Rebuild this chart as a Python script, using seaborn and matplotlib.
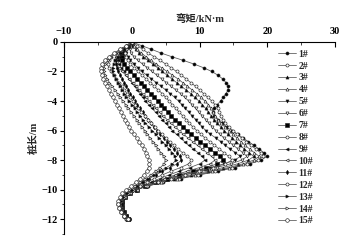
import numpy as np
import pandas as pd
import seaborn as sns
import matplotlib
matplotlib.use("Agg")
import matplotlib.pyplot as plt
from matplotlib.ticker import MultipleLocator

# depth grid (m), measurement every 0.25 m from 0 to -12
depth = np.linspace(0, -12, 49)

labels = ["1#", "2#", "3#", "4#", "5#", "6#", "7#", "8#", "9#", "10#",
          "11#", "12#", "13#", "14#", "15#"]

m1 = [0, 1.45, 2.9, 4.3, 5.9, 7.6, 9.2, 10.6, 11.8, 12.7, 13.4, 13.9, 14.2,
      14.2, 13.9, 13.5, 13.1, 12.6, 12.2, 12.0, 12.2, 12.7, 13.3, 14.0, 14.8,
      15.6, 16.4, 17.2, 18.0, 18.8, 19.5, 19.9, 19.1, 17.4, 15.2, 12.7, 10.0,
      7.2, 4.6, 2.4, 0.7, -0.5, -1.3, -1.7, -1.8, -1.7, -1.5, -1.2, -0.8]
m2 = [0, 0.8, 1.6, 2.4, 3.3, 4.2, 5.0, 5.8, 6.6, 7.3, 8.0, 8.7, 9.4,
      10.0, 10.6, 11.2, 11.8, 12.3, 12.7, 12.9, 13.1, 13.4, 13.8, 14.3, 14.9,
      15.5, 16.2, 16.9, 17.6, 18.3, 19.0, 19.4, 18.6, 17.0, 14.8, 12.3, 9.7,
      7.0, 4.5, 2.3, 0.6, -0.6, -1.4, -1.7, -1.8, -1.7, -1.5, -1.2, -0.8]
m3 = [0, 0.2, 0.6, 1.1, 1.7, 2.4, 3.1, 3.8, 4.5, 5.2, 5.9, 6.6, 7.3,
      8.0, 8.7, 9.3, 9.9, 10.4, 10.9, 11.3, 11.7, 12.1, 12.6, 13.1, 13.6,
      14.2, 14.8, 15.4, 16.0, 16.6, 17.3, 18.0, 17.2, 15.6, 13.5, 11.2, 8.7,
      6.2, 4.0, 2.1, 0.6, -0.5, -1.2, -1.6, -1.7, -1.6, -1.4, -1.1, -0.7]
m4 = [0, 0.3, 0.8, 1.4, 2.1, 2.8, 3.6, 4.4, 5.2, 6.0, 6.8, 7.5, 8.2,
      8.9, 9.6, 10.2, 10.8, 11.3, 11.7, 12.0, 12.3, 12.7, 13.2, 13.7, 14.3,
      14.9, 15.5, 16.1, 16.7, 17.4, 18.1, 18.8, 18.0, 16.4, 14.3, 11.9, 9.3,
      6.7, 4.3, 2.2, 0.6, -0.6, -1.3, -1.7, -1.8, -1.7, -1.5, -1.1, -0.7]
m5 = [0, -0.4, -0.7, -0.8, -0.6, -0.2, 0.3, 0.9, 1.5, 2.2, 2.9, 3.6, 4.3,
      5.0, 5.7, 6.3, 6.9, 7.4, 7.9, 8.4, 8.9, 9.4, 9.9, 10.4, 10.9,
      11.6, 12.4, 13.1, 13.8, 14.5, 15.3, 16.0, 15.2, 13.6, 11.6, 9.4, 7.2,
      5.1, 3.3, 1.8, 0.5, -0.4, -1.0, -1.4, -1.5, -1.4, -1.2, -0.9, -0.5]
m6 = [0, -0.2, -0.3, -0.1, 0.3, 0.9, 1.6, 2.3, 3.0, 3.7, 4.4, 5.1, 5.8,
      6.5, 7.2, 7.8, 8.4, 8.9, 9.4, 9.9, 10.4, 10.9, 11.4, 11.9, 12.4,
      13.0, 13.6, 14.3, 15.0, 15.7, 16.4, 17.0, 16.2, 14.6, 12.5, 10.2, 7.8,
      5.5, 3.5, 1.9, 0.6, -0.4, -1.1, -1.5, -1.6, -1.5, -1.3, -1.0, -0.6]
m7 = [0, -0.6, -1.1, -1.4, -1.5, -1.4, -1.1, -0.7, -0.2, 0.3, 0.8, 1.3, 1.8,
      2.3, 2.8, 3.3, 3.8, 4.3, 4.8, 5.3, 5.8, 6.4, 7.0, 7.6, 8.2,
      8.8, 9.4, 10.1, 10.8, 11.5, 12.3, 13.0, 13.5, 12.6, 11.0, 9.0, 7.0,
      5.2, 3.5, 2.0, 0.7, -0.3, -1.0, -1.4, -1.5, -1.5, -1.2, -0.9, -0.5]
m8 = [0, -0.5, -0.9, -1.0, -0.9, -0.6, -0.2, 0.3, 0.9, 1.5, 2.1, 2.7, 3.3,
      3.9, 4.5, 5.0, 5.5, 6.0, 6.5, 7.0, 7.5, 8.0, 8.5, 9.0, 9.6,
      10.2, 10.8, 11.5, 12.2, 12.9, 13.6, 14.3, 14.8, 13.8, 12.0, 9.9, 7.8,
      5.8, 3.9, 2.2, 0.8, -0.3, -1.0, -1.4, -1.6, -1.5, -1.3, -1.0, -0.6]
m9 = [0, -0.6, -1.2, -1.6, -1.9, -2.0, -1.9, -1.6, -1.2, -0.8, -0.4, 0.0, 0.4,
      0.8, 1.2, 1.6, 2.0, 2.5, 3.0, 3.5, 4.0, 4.5, 5.0, 5.5, 6.0,
      6.6, 7.2, 7.8, 8.4, 9.1, 9.8, 10.4, 10.8, 10.0, 8.6, 7.0, 5.5,
      4.1, 2.8, 1.6, 0.5, -0.4, -1.0, -1.4, -1.5, -1.4, -1.1, -0.8, -0.4]
m10 = [0, -0.8, -1.5, -2.0, -2.4, -2.5, -2.3, -1.9, -1.4, -0.9, -0.4, 0.1, 0.6,
       1.1, 1.6, 2.1, 2.6, 3.1, 3.6, 4.1, 4.6, 5.2, 5.8, 6.4, 7.0,
       7.6, 8.3, 9.0, 9.7, 10.4, 11.1, 11.8, 12.3, 11.5, 10.0, 8.2, 6.4,
       4.8, 3.3, 1.9, 0.7, -0.3, -1.0, -1.4, -1.6, -1.5, -1.3, -0.9, -0.5]
m11 = [0, -0.6, -1.2, -1.7, -2.1, -2.3, -2.3, -2.2, -2.0, -1.7, -1.4, -1.1, -0.8,
       -0.5, -0.2, 0.1, 0.4, 0.8, 1.2, 1.6, 2.0, 2.4, 2.8, 3.2, 3.7,
       4.2, 4.7, 5.2, 5.7, 6.2, 6.7, 7.1, 7.3, 6.7, 5.6, 4.5, 3.5,
       2.6, 1.7, 0.9, 0.1, -0.6, -1.1, -1.4, -1.5, -1.4, -1.1, -0.7, -0.3]
m12 = [0, -0.8, -1.7, -2.5, -3.1, -3.4, -3.5, -3.4, -3.1, -2.7, -2.3, -1.9, -1.5,
       -1.1, -0.7, -0.3, 0.1, 0.5, 0.9, 1.4, 1.9, 2.4, 2.9, 3.4, 3.9,
       4.4, 5.0, 5.6, 6.2, 6.8, 7.5, 8.2, 8.8, 8.4, 7.2, 5.8, 4.5,
       3.3, 2.2, 1.2, 0.2, -0.6, -1.2, -1.6, -1.7, -1.6, -1.4, -1.0, -0.5]
m13 = [0, -0.5, -1.1, -1.6, -2.1, -2.5, -2.7, -2.8, -2.8, -2.6, -2.3, -2.0, -1.7,
       -1.4, -1.1, -0.8, -0.4, 0.0, 0.4, 0.8, 1.2, 1.6, 2.0, 2.5, 3.0,
       3.5, 4.0, 4.5, 5.0, 5.5, 6.0, 6.4, 6.5, 6.0, 5.1, 4.1, 3.2,
       2.4, 1.6, 0.8, 0.0, -0.7, -1.3, -1.6, -1.7, -1.6, -1.3, -0.9, -0.4]
m14 = [0, -0.7, -1.5, -2.3, -3.0, -3.5, -3.9, -4.1, -4.1, -3.9, -3.6, -3.3, -2.9,
       -2.5, -2.1, -1.7, -1.3, -0.9, -0.5, -0.1, 0.3, 0.7, 1.1, 1.5, 1.9,
       2.3, 2.7, 3.1, 3.5, 3.9, 4.3, 4.7, 5.0, 4.8, 4.2, 3.5, 2.8,
       2.0, 1.2, 0.4, -0.4, -1.1, -1.6, -1.9, -2.0, -1.9, -1.6, -1.2, -0.7]
m15 = [0, -0.8, -1.7, -2.6, -3.4, -4.0, -4.4, -4.5, -4.5, -4.4, -4.2, -4.0, -3.7,
       -3.4, -3.1, -2.8, -2.5, -2.2, -1.9, -1.6, -1.3, -1.0, -0.7, -0.4, -0.1,
       0.3, 0.7, 1.1, 1.5, 1.8, 2.1, 2.3, 2.5, 2.6, 2.5, 2.2, 1.8,
       1.2, 0.6, -0.1, -0.8, -1.4, -1.8, -2.0, -2.0, -1.9, -1.6, -1.1, -0.5]

series = [m1, m2, m3, m4, m5, m6, m7, m8, m9, m10, m11, m12, m13, m14, m15]
markers = ["o", "o", "^", "^", "v", "v", "s", "o", "<", "<", "d", "o", ">", ">", "o"]
filled = [True, False] * 7 + [False]

sns.set_theme(style="white")
plt.rcParams["font.family"] = ["Liberation Serif", "Noto Sans CJK SC", "DejaVu Sans"]
plt.rcParams["axes.unicode_minus"] = True

fig = plt.figure(figsize=(3.52, 2.41), dpi=100)
ax = fig.add_axes([0.182, 0.029, 0.770, 0.797])

for lab, vals, mk, fl in zip(labels, series, markers, filled):
    df = pd.DataFrame({"M": vals, "depth": depth})
    sns.lineplot(data=df, x="M", y="depth", orient="y", sort=False,
                 estimator=None, ax=ax, color="#555555", linewidth=0.55,
                 marker=mk, markersize=2.2 if lab != "15#" else 2.6,
                 markerfacecolor="black" if fl else "white",
                 markeredgecolor="#222222", markeredgewidth=0.45, label=lab)

ax.set_xlim(-10, 30)
ax.set_ylim(-13, 0)
ax.xaxis.tick_top()
ax.xaxis.set_label_position("top")
ax.xaxis.set_major_locator(MultipleLocator(10))
ax.xaxis.set_minor_locator(MultipleLocator(5))
ax.yaxis.set_major_locator(MultipleLocator(2))
ax.yaxis.set_minor_locator(MultipleLocator(1))
for s in ["right", "bottom"]:
    ax.spines[s].set_visible(False)
for s in ["top", "left"]:
    ax.spines[s].set_color("black")
    ax.spines[s].set_linewidth(0.8)

ax.tick_params(axis="x", which="major", direction="in", length=3.5, width=0.8,
               pad=4, labelsize=7.5, colors="black", top=True, bottom=False)
ax.tick_params(axis="x", which="minor", direction="in", length=2, width=0.6,
               top=True, bottom=False)
ax.tick_params(axis="y", which="major", direction="out", length=3, width=0.8,
               pad=1.5, labelsize=7.5, colors="black", left=True)
ax.tick_params(axis="y", which="minor", direction="out", length=1.8, width=0.6,
               left=True)
for t in ax.get_xticklabels() + ax.get_yticklabels():
    t.set_fontweight("bold")

ax.set_xlabel("弯矩/kN·m", fontsize=7.5, fontweight="bold", labelpad=3,
              family=["Liberation Serif", "Noto Sans CJK SC"])
ax.set_ylabel("桩长/m", fontsize=7.5, fontweight="bold", labelpad=2,
              family=["Liberation Serif", "Noto Sans CJK SC"])

leg = ax.legend(loc="upper left", bbox_to_anchor=(0.79, 0.96), frameon=False,
                fontsize=7, handlelength=1.8, handletextpad=0.3,
                labelspacing=0.3, borderpad=0, borderaxespad=0)
for t in leg.get_texts():
    t.set_fontweight("bold")

fig.savefig("out.png", dpi=100)
